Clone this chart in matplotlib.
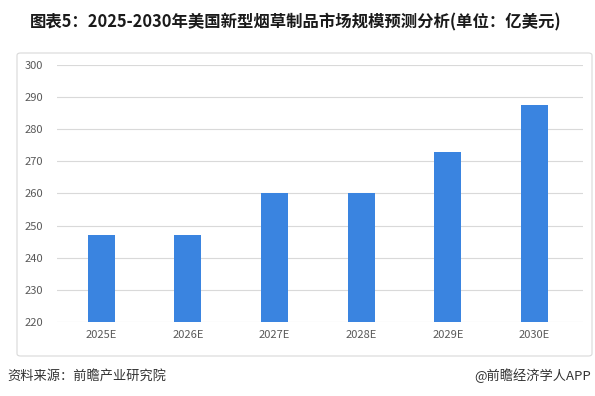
import matplotlib.pyplot as plt
from matplotlib.patches import FancyBboxPatch

plt.rcParams['font.family'] = ['Noto Sans CJK SC', 'DejaVu Sans']

years = ["2025E", "2026E", "2027E", "2028E", "2029E", "2030E"]
values = [247, 247, 260, 260, 273, 287.5]
yticks = [220, 230, 240, 250, 260, 270, 280, 290, 300]

fig = plt.figure(figsize=(5.95, 3.96), dpi=100)
W, H = 595, 396

# outer frame around chart
frame = FancyBboxPatch((17 / W, 1 - 356 / H), 575 / W, 303 / H,
                       boxstyle="round,pad=0,rounding_size=0.006",
                       transform=fig.transFigure, fill=False,
                       edgecolor="#d9d9d9", linewidth=0.8)
fig.patches.append(frame)

ax = fig.add_axes([57 / W, 1 - 322 / H, (583 - 57) / W, (322 - 65) / H])
x = range(len(years))
ax.bar(x, values, width=0.31, color="#3a84e0", zorder=3)
ax.set_ylim(220, 300)
ax.set_xlim(-0.51, 5.56)
ax.set_yticks(yticks)
ax.set_xticks(list(x))
ax.set_xticklabels(years)
ax.grid(axis="y", color="#d9d9d9", linewidth=0.8, zorder=0)
for s in ax.spines.values():
    s.set_visible(False)
ax.tick_params(length=0, colors="#595959", labelsize=8)
ax.tick_params(axis="y", pad=10)
ax.tick_params(axis="x", pad=6)

fig.text(30 / W, 1 - 22 / H, "图表5：2025-2030年美国新型烟草制品市场规模预测分析(单位：亿美元)",
         fontsize=11.8, fontweight="bold", color="#1a1a1a", va="center", ha="left")
fig.text(7 / W, 1 - 376 / H, "资料来源：前瞻产业研究院", fontsize=9.5,
         color="#333333", va="center", ha="left")
fig.text(591 / W, 1 - 376 / H, "@前瞻经济学人APP", fontsize=9.5,
         color="#333333", va="center", ha="right")

fig.savefig("out.png", dpi=100)
